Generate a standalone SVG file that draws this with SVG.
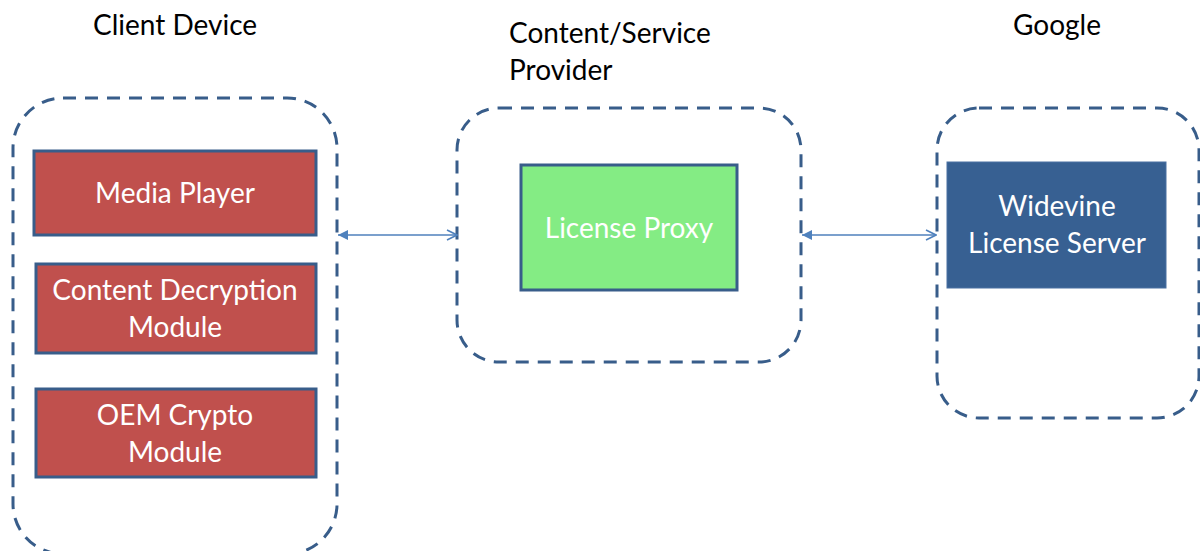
<svg xmlns="http://www.w3.org/2000/svg" width="1200" height="551" viewBox="0 0 1200 551">
<style>
.hdr{font-family:Lato,"Open Sans","Liberation Sans",sans-serif;font-size:28px;fill:#000}
.lbl{font-family:Lato,"Open Sans","Liberation Sans",sans-serif;font-size:28px;fill:#fff;text-anchor:middle}
.zone{fill:none;stroke:#385D8A;stroke-width:3;stroke-dasharray:13 9}
.red{fill:#C0504D;stroke:#385D8A;stroke-width:3}
.conn{stroke:#4F81BD;stroke-width:1.6;fill:none}
</style>
<defs>
<marker id="tri" viewBox="0 0 10 10" refX="10" refY="5" markerWidth="10" markerHeight="10" markerUnits="userSpaceOnUse" orient="auto-start-reverse">
<path d="M0,0 L10,5 L0,10 z" fill="#4F81BD"/>
</marker>
<marker id="open" viewBox="0 0 12 12" refX="11" refY="6" markerWidth="12" markerHeight="12" markerUnits="userSpaceOnUse" orient="auto">
<path d="M1,1 L11,6 L1,11" fill="none" stroke="#4F81BD" stroke-width="1.6"/>
</marker>
</defs>
<rect width="1200" height="551" fill="#fff"/>
<g id="client-device">
<rect class="zone" x="13" y="98" width="324" height="456" rx="50"/>
<text class="hdr" x="93" y="35">Client Device</text>
</g>
<g id="media-player">
<rect class="red" x="34" y="151" width="282" height="84"/>
<text class="lbl" x="175" y="203">Media Player</text>
</g>
<g id="cdm">
<rect class="red" x="36" y="264" width="280" height="89"/>
<text class="lbl" x="175" y="300">Content Decryption</text>
<text class="lbl" x="175" y="337">Module</text>
</g>
<g id="oem-crypto">
<rect class="red" x="36" y="389" width="280" height="88"/>
<text class="lbl" x="175" y="425">OEM Crypto</text>
<text class="lbl" x="175" y="462">Module</text>
</g>
<g id="content-provider">
<rect class="zone" x="457" y="108" width="344" height="254" rx="42"/>
<text class="hdr" x="509" y="43">Content/Service</text>
<text class="hdr" x="509" y="80">Provider</text>
</g>
<g id="license-proxy">
<rect x="521" y="165" width="216" height="125" fill="#84EC84" stroke="#385D8A" stroke-width="3"/>
<text class="lbl" x="629" y="238">License Proxy</text>
</g>
<g id="google">
<rect class="zone" x="937" y="108" width="262" height="310" rx="42"/>
<text class="hdr" x="1013" y="35">Google</text>
</g>
<g id="widevine">
<rect x="947" y="162" width="219" height="126" fill="#376092" stroke="#4A71A2" stroke-width="1"/>
<text class="lbl" x="1057" y="216">Widevine</text>
<text class="lbl" x="1057" y="253">License Server</text>
</g>
<g id="connectors">
<line class="conn" x1="338" y1="235" x2="457" y2="235" marker-start="url(#tri)" marker-end="url(#open)"/>
<line class="conn" x1="802" y1="235" x2="936" y2="235" marker-start="url(#tri)" marker-end="url(#open)"/>
</g>
</svg>
